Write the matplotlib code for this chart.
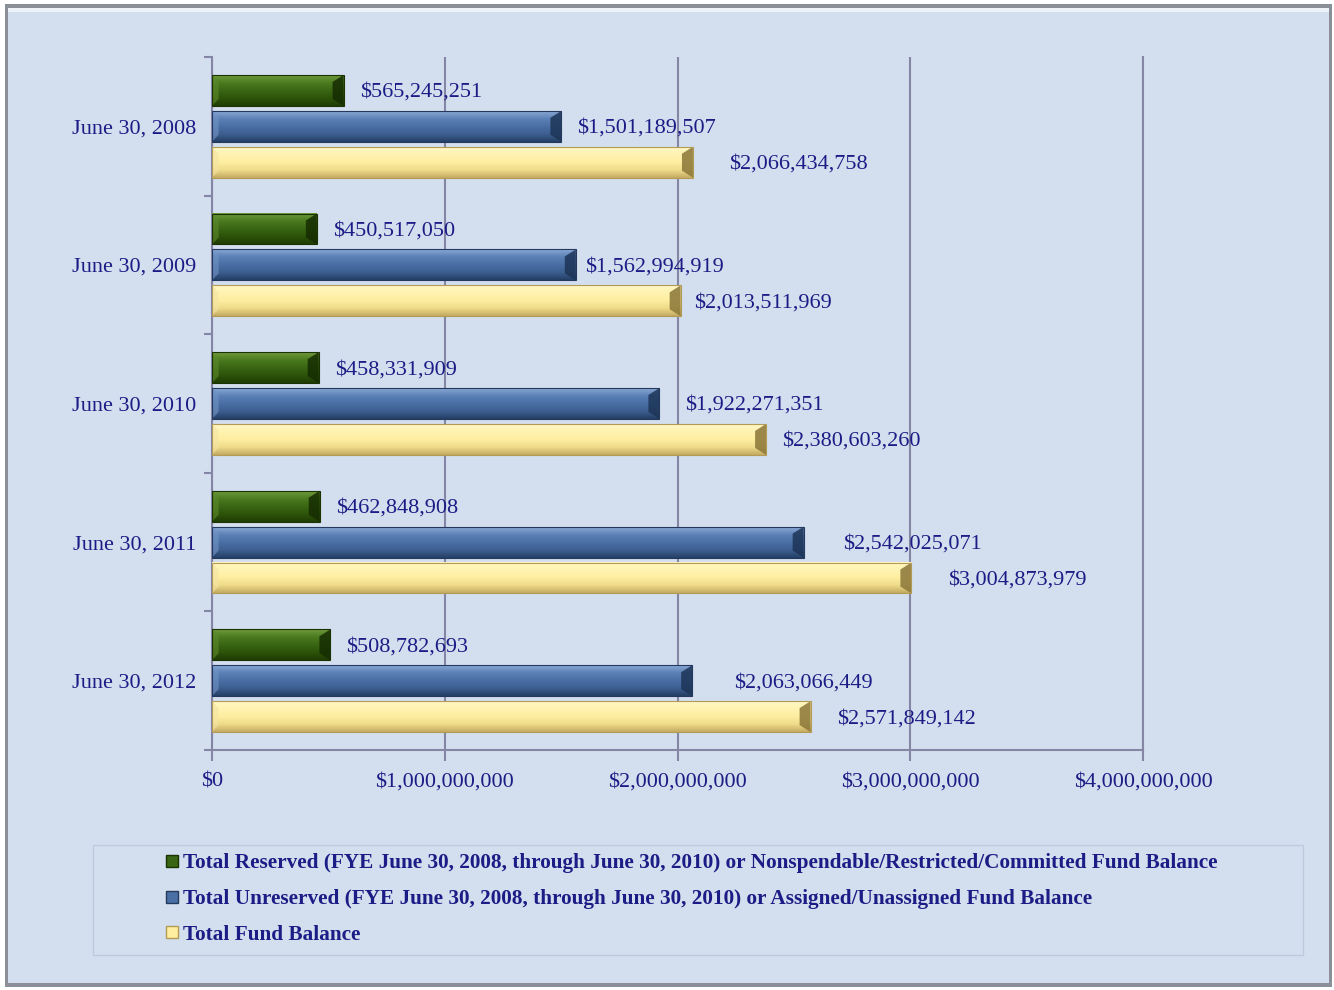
import numpy as np
import matplotlib
matplotlib.use("Agg")
import matplotlib.pyplot as plt
from matplotlib.colors import LinearSegmentedColormap
from matplotlib.patches import Rectangle, Polygon
from matplotlib.ticker import FuncFormatter, FixedLocator
from matplotlib.lines import Line2D

# fund balance data
years = ["June 30, 2008", "June 30, 2009", "June 30, 2010", "June 30, 2011", "June 30, 2012"]
reserved = [565245251, 450517050, 458331909, 462848908, 508782693]
unreserved = [1501189507, 1562994919, 1922271351, 2542025071, 2063066449]
total = [2066434758, 2013511969, 2380603260, 3004873979, 2571849142]
legend_labels = [
    "Total Reserved (FYE June 30, 2008, through June 30, 2010) or Nonspendable/Restricted/Committed Fund Balance",
    "Total Unreserved (FYE June 30, 2008, through June 30, 2010) or Assigned/Unassigned Fund Balance",
    "Total Fund Balance",
]

# label gaps (pixels) right of each bar end
gap_reserved = [17, 16, 16, 16, 16]
gap_unreserved = [16, 9, 26, 39, 42]
gap_total = [36, 13, 16, 37, 26]

NAVY = "#1c1c86"
BG = "#d3dfee"
AXC = "#8585a6"
FS = 16
plt.rcParams["font.family"] = ["Liberation Serif", "DejaVu Serif"]

# gradient colours for the bevelled bars: top edge -> body -> bottom edge, plus end caps
styles = {
    "green": dict(grad=["#6f9a3c", "#4a7a1f", "#3a6614", "#2d5409", "#1f3d04"], right="#162c02", left="#5e8a2c", edge="#1b3303"),
    "blue": dict(grad=["#8aa8d4", "#5a80b6", "#4a6fa5", "#3d5e90", "#243f66"], right="#1d3456", left="#7395c6", edge="#23395e"),
    "yellow": dict(grad=["#fff6c4", "#fff3b0", "#fdeea0", "#efdb8a", "#c4ab62"], right="#8a7638", left="#f3e3a2", edge="#b49b55"),
}

fig = plt.figure(figsize=(13.34, 9.9), dpi=100)
fig.patch.set_facecolor("white")

# outer panel with grey shadow border
W, H = 1334, 990
fig.patches.append(Rectangle((5 / W, 3 / H), 1327 / W, 983 / H, transform=fig.transFigure,
                             facecolor="#8a8f98", edgecolor="none", zorder=-3))
fig.patches.append(Rectangle((8 / W, 7 / H), 1321 / W, 975 / H, transform=fig.transFigure,
                             facecolor=BG, edgecolor="none", zorder=-2))
fig.patches.append(Rectangle((8 / W, 978 / H), 1321 / W, 4 / H, transform=fig.transFigure,
                             facecolor="#eef3fa", edgecolor="none", zorder=-1))
# legend frame
fig.patches.append(Rectangle((93 / W, 1 - 955 / H), 1210 / W, 110 / H, transform=fig.transFigure,
                             facecolor="none", edgecolor="#bfcbdc", linewidth=1, zorder=0))

ax = fig.add_axes([212 / W, 1 - 750 / H, 931 / W, 693 / H])
ax.set_facecolor("none")

xmax = 4e9
px = xmax / 931.0          # data units per pixel along x
band = 139.0               # pixels per category
py = 1.0 / band            # data units per pixel along y
bar_h = 31 * py
offs = [-36 * py, 0.0, 36 * py]


def bevel_bar(ax, y, v, st):
    top, bot = y - bar_h / 2, y + bar_h / 2
    cmap = LinearSegmentedColormap.from_list("g", st["grad"])
    grad = np.linspace(0, 1, 64).reshape(-1, 1)
    ax.imshow(grad, cmap=cmap, extent=(0, v, bot, top), origin="upper",
              aspect="auto", interpolation="bilinear", zorder=3)
    bx, by = 11 * px, 7 * py
    # right end cap
    ax.add_patch(Polygon([(v, top), (v, bot), (v - bx, bot - by), (v - bx, top + by)],
                         closed=True, facecolor=st["right"], edgecolor="none", alpha=0.85, zorder=4))
    # left end cap
    ax.add_patch(Polygon([(0, top), (0, bot), (bx * 0.6, bot - by), (bx * 0.6, top + by)],
                         closed=True, facecolor=st["left"], edgecolor="none", alpha=0.6, zorder=4))
    ax.add_patch(Rectangle((0, top), v, bar_h, facecolor="none", edgecolor=st["edge"],
                           linewidth=0.8, zorder=5))


ypos = np.arange(len(years))
series = [(reserved, "green", gap_reserved), (unreserved, "blue", gap_unreserved), (total, "yellow", gap_total)]
for k, (vals, key, gaps) in enumerate(series):
    for i, v in enumerate(vals):
        yc = ypos[i] + offs[k]
        bevel_bar(ax, yc, v, styles[key])
        ax.text(v + gaps[i] * px, yc + 2 * py, "${:,.0f}".format(v), color=NAVY, fontsize=FS,
                va="center", ha="left", zorder=6, clip_on=False)

ax.set_xlim(0, xmax)
ax.set_ylim(len(years) - 0.5, -0.5)

ax.xaxis.set_major_locator(FixedLocator([0, 1e9, 2e9, 3e9, 4e9]))
ax.xaxis.set_major_formatter(FuncFormatter(lambda x, p: "${:,.0f}".format(x)))
ax.set_yticks(ypos)
ax.set_yticklabels(years)
ax.yaxis.set_minor_locator(FixedLocator(np.arange(-0.5, len(years), 1.0)))

ax.tick_params(axis="x", colors=AXC, labelcolor=NAVY, labelsize=FS, length=8, width=1.5,
               direction="out", pad=8)
ax.tick_params(axis="y", which="major", length=0, labelcolor=NAVY, labelsize=FS, pad=11)
ax.tick_params(axis="y", which="minor", length=6, width=1.5, color=AXC, direction="out")

ax.grid(axis="x", color=AXC, linewidth=1.5, zorder=1)
ax.set_axisbelow(True)
ax.spines["top"].set_visible(False)
for s in ["right", "left", "bottom"]:
    ax.spines[s].set_color(AXC)
    ax.spines[s].set_linewidth(1.5)

handles = [Line2D([], [], linestyle="none", marker="s", markersize=8,
                  markerfacecolor=styles[k]["grad"][2], markeredgecolor=styles[k]["edge"])
           for k in ["green", "blue", "yellow"]]
fig.legend(handles, legend_labels, loc="upper left", bbox_to_anchor=(166 / W, 1 - 853 / H),
           frameon=False, handlelength=0.6, handletextpad=0.2, labelspacing=0.75,
           prop=dict(family=["Liberation Serif"], weight="bold", size=15.3), labelcolor=NAVY,
           borderaxespad=0, borderpad=0)

fig.savefig("out.png", dpi=100, facecolor=fig.get_facecolor())
